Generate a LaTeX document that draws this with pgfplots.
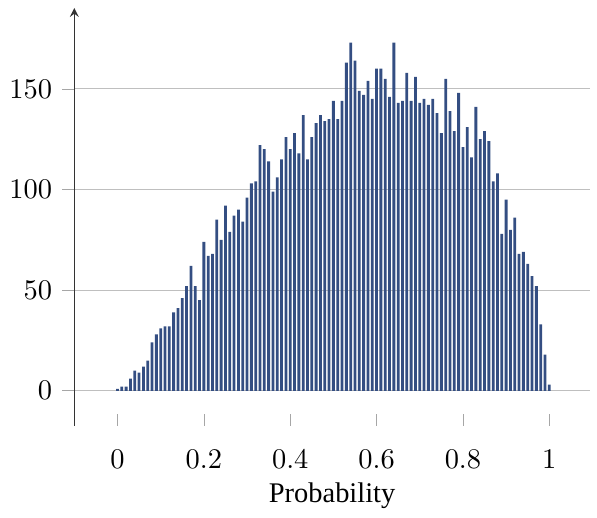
\documentclass[border=0pt]{standalone}
\usepackage{pgfplots}
\pgfplotsset{compat=1.18}
\usepackage{fontspec}
\setmainfont{Liberation Serif}
\definecolor{barblue}{RGB}{52,78,130}
\pgfplotstableread{
x y
0.00 1
0.01 2
0.02 2
0.03 6
0.04 10
0.05 9
0.06 12
0.07 15
0.08 24
0.09 28
0.10 31
0.11 32
0.12 32
0.13 39
0.14 41
0.15 46
0.16 52
0.17 62
0.18 52
0.19 45
0.20 74
0.21 67
0.22 68
0.23 85
0.24 75
0.25 92
0.26 79
0.27 87
0.28 90
0.29 84
0.30 96
0.31 103
0.32 104
0.33 122
0.34 120
0.35 114
0.36 99
0.37 106
0.38 115
0.39 126
0.40 120
0.41 128
0.42 118
0.43 137
0.44 115
0.45 126
0.46 133
0.47 137
0.48 134
0.49 135
0.50 144
0.51 135
0.52 144
0.53 163
0.54 173
0.55 164
0.56 149
0.57 147
0.58 154
0.59 145
0.60 160
0.61 160
0.62 155
0.63 146
0.64 173
0.65 143
0.66 144
0.67 158
0.68 144
0.69 156
0.70 143
0.71 145
0.72 142
0.73 145
0.74 138
0.75 128
0.76 155
0.77 139
0.78 129
0.79 148
0.80 121
0.81 131
0.82 116
0.83 141
0.84 125
0.85 129
0.86 124
0.87 104
0.88 108
0.89 78
0.90 95
0.91 80
0.92 86
0.93 68
0.94 69
0.95 63
0.96 57
0.97 52
0.98 33
0.99 18
1.00 3
}\datatable
\begin{document}
\begin{tikzpicture}
\begin{axis}[
  scale only axis, width=181.3pt, height=147pt,
  xmin=-0.1, xmax=1.094, ymin=-17.5, ymax=190.2,
  axis y line=left, axis x line=bottom,
  x axis line style={draw=none},
  y axis line style={-stealth, black!80},
  ytick={0,50,100,150}, xtick={0,0.2,0.4,0.6,0.8,1},
  ytick align=outside, xtick align=inside,
  major tick style={gray!70},
  ymajorgrids, grid style={gray!50, thin},
  xticklabel style={yshift=-5pt},
  xlabel={Probability},
  xlabel style={yshift=2pt},
]
\addplot[ybar, bar width=0.0065, fill=barblue, draw=none] table[x=x,y=y] {\datatable};
\end{axis}
\path (current axis.north east) ++(2.5pt,2.8pt);
\end{tikzpicture}
\end{document}
